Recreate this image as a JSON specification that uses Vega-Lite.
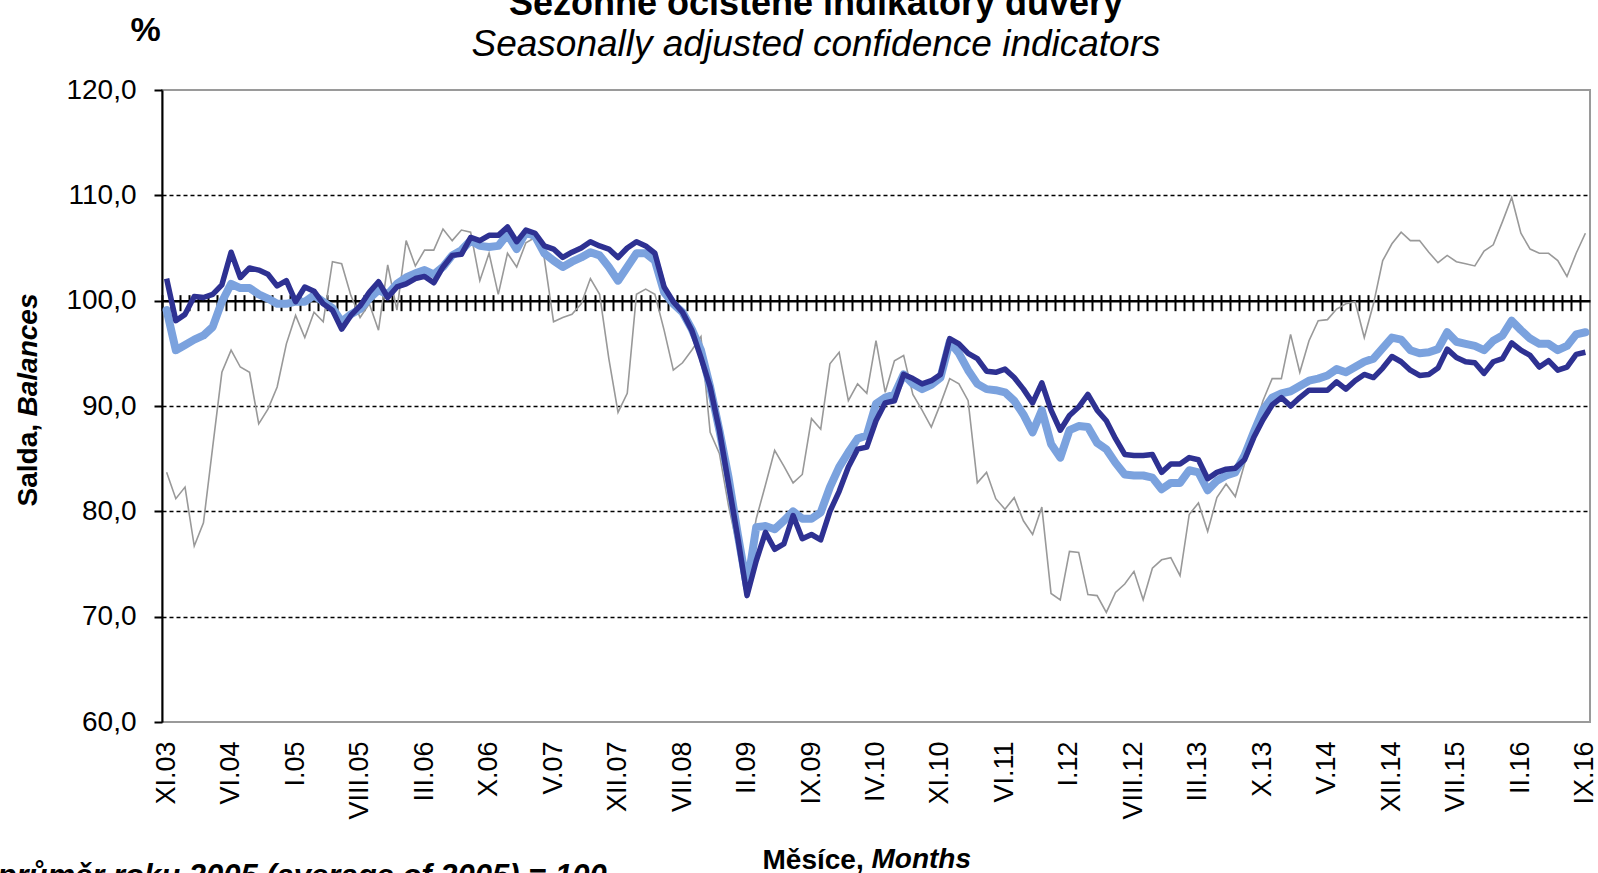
{
  "$schema": "https://vega.github.io/schema/vega-lite/v6.json",
  "autosize": {"type": "none"},
  "width": 1428,
  "height": 632,
  "padding": {"left": 162, "top": 90, "right": 8, "bottom": 151},
  "background": "white",
  "config": {
    "font": "Liberation Sans",
    "view": {"stroke": "#9a9a9a", "strokeWidth": 2},
    "axis": {"labelFont": "Liberation Sans", "titleFont": "Liberation Sans", "labelColor": "#000", "titleColor": "#000"}
  },
  "title": {
    "text": "Sezónně očištěné indikátory důvěry",
    "subtitle": "Seasonally adjusted confidence indicators",
    "font": "Liberation Sans",
    "fontSize": 36,
    "fontWeight": "bold",
    "color": "#000",
    "subtitleFont": "Liberation Sans",
    "subtitleFontSize": 37,
    "subtitleFontStyle": "italic",
    "subtitleFontWeight": "normal",
    "subtitleColor": "#000",
    "subtitlePadding": 4,
    "anchor": "middle",
    "frame": "group",
    "dx": -60,
    "offset": -51
  },
  "data": {"values": [
    {"m":"XI.03","g":83.7,"l":99.1,"d":102.1},
    {"m":"XII.03","g":81.2,"l":95.3,"d":98.1},
    {"m":"I.04","g":82.3,"l":95.8,"d":98.7},
    {"m":"II.04","g":76.7,"l":96.3,"d":100.4},
    {"m":"III.04","g":78.9,"l":96.7,"d":100.3},
    {"m":"IV.04","g":86.1,"l":97.5,"d":100.6},
    {"m":"V.04","g":93.2,"l":99.9,"d":101.5},
    {"m":"VI.04","g":95.3,"l":101.6,"d":104.6},
    {"m":"VII.04","g":93.7,"l":101.2,"d":102.2},
    {"m":"VIII.04","g":93.2,"l":101.2,"d":103.1},
    {"m":"IX.04","g":88.3,"l":100.6,"d":102.9},
    {"m":"X.04","g":89.7,"l":100.2,"d":102.5},
    {"m":"XI.04","g":91.8,"l":99.7,"d":101.4},
    {"m":"XII.04","g":95.9,"l":99.7,"d":101.9},
    {"m":"I.05","g":98.6,"l":99.9,"d":99.9},
    {"m":"II.05","g":96.5,"l":99.9,"d":101.3},
    {"m":"III.05","g":98.9,"l":100.5,"d":100.9},
    {"m":"IV.05","g":98.0,"l":99.9,"d":99.7},
    {"m":"V.05","g":103.7,"l":99.3,"d":99.1},
    {"m":"VI.05","g":103.5,"l":98.0,"d":97.3},
    {"m":"VII.05","g":100.5,"l":98.7,"d":98.6},
    {"m":"VIII.05","g":98.4,"l":99.2,"d":99.5},
    {"m":"IX.05","g":99.7,"l":100.2,"d":100.8},
    {"m":"X.05","g":97.2,"l":101.0,"d":101.8},
    {"m":"XI.05","g":103.4,"l":100.6,"d":100.3},
    {"m":"XII.05","g":99.1,"l":101.6,"d":101.3},
    {"m":"I.06","g":105.7,"l":102.2,"d":101.6},
    {"m":"II.06","g":103.3,"l":102.6,"d":102.1},
    {"m":"III.06","g":104.8,"l":102.9,"d":102.3},
    {"m":"IV.06","g":104.8,"l":102.5,"d":101.7},
    {"m":"V.06","g":106.8,"l":103.2,"d":103.2},
    {"m":"VI.06","g":105.7,"l":104.3,"d":104.3},
    {"m":"VII.06","g":106.7,"l":104.8,"d":104.4},
    {"m":"VIII.06","g":106.5,"l":105.7,"d":106.0},
    {"m":"IX.06","g":101.9,"l":105.2,"d":105.7},
    {"m":"X.06","g":104.5,"l":105.1,"d":106.2},
    {"m":"XI.06","g":100.6,"l":105.2,"d":106.2},
    {"m":"XII.06","g":104.5,"l":106.3,"d":107.0},
    {"m":"I.07","g":103.2,"l":104.9,"d":105.6},
    {"m":"II.07","g":105.5,"l":106.5,"d":106.7},
    {"m":"III.07","g":106.0,"l":106.1,"d":106.4},
    {"m":"IV.07","g":104.0,"l":104.5,"d":105.2},
    {"m":"V.07","g":98.0,"l":103.8,"d":104.9},
    {"m":"VI.07","g":98.4,"l":103.2,"d":104.1},
    {"m":"VII.07","g":98.7,"l":103.7,"d":104.6},
    {"m":"VIII.07","g":99.7,"l":104.1,"d":105.0},
    {"m":"IX.07","g":102.1,"l":104.6,"d":105.6},
    {"m":"X.07","g":100.6,"l":104.3,"d":105.2},
    {"m":"XI.07","g":94.5,"l":103.2,"d":104.9},
    {"m":"XII.07","g":89.4,"l":101.9,"d":104.1},
    {"m":"I.08","g":91.2,"l":103.2,"d":105.0},
    {"m":"II.08","g":100.6,"l":104.5,"d":105.6},
    {"m":"III.08","g":101.1,"l":104.5,"d":105.2},
    {"m":"IV.08","g":100.6,"l":103.8,"d":104.5},
    {"m":"V.08","g":97.2,"l":100.8,"d":101.3},
    {"m":"VI.08","g":93.4,"l":99.7,"d":99.9},
    {"m":"VII.08","g":94.1,"l":98.9,"d":98.9},
    {"m":"VIII.08","g":95.3,"l":97.3,"d":97.2},
    {"m":"IX.08","g":96.6,"l":95.3,"d":94.6},
    {"m":"X.08","g":87.5,"l":91.8,"d":91.8},
    {"m":"XI.08","g":85.5,"l":87.7,"d":87.7},
    {"m":"XII.08","g":80.5,"l":83.2,"d":82.6},
    {"m":"I.09","g":76.5,"l":77.8,"d":77.5},
    {"m":"II.09","g":74.3,"l":72.8,"d":72.0},
    {"m":"III.09","g":79.3,"l":78.5,"d":75.3},
    {"m":"IV.09","g":82.5,"l":78.6,"d":78.0},
    {"m":"V.09","g":85.8,"l":78.3,"d":76.4},
    {"m":"VI.09","g":84.3,"l":79.1,"d":76.9},
    {"m":"VII.09","g":82.7,"l":80.0,"d":79.6},
    {"m":"VIII.09","g":83.5,"l":79.3,"d":77.4},
    {"m":"IX.09","g":88.8,"l":79.3,"d":77.8},
    {"m":"X.09","g":87.8,"l":79.9,"d":77.3},
    {"m":"XI.09","g":94.0,"l":82.3,"d":80.0},
    {"m":"XII.09","g":95.1,"l":84.2,"d":81.9},
    {"m":"I.10","g":90.5,"l":85.6,"d":84.2},
    {"m":"II.10","g":92.1,"l":86.9,"d":85.9},
    {"m":"III.10","g":91.2,"l":87.2,"d":86.1},
    {"m":"IV.10","g":96.2,"l":90.2,"d":88.6},
    {"m":"V.10","g":91.3,"l":90.8,"d":90.3},
    {"m":"VI.10","g":94.3,"l":91.1,"d":90.5},
    {"m":"VII.10","g":94.8,"l":93.0,"d":93.0},
    {"m":"VIII.10","g":91.1,"l":92.1,"d":92.6},
    {"m":"IX.10","g":89.6,"l":91.6,"d":92.1},
    {"m":"X.10","g":88.0,"l":92.0,"d":92.4},
    {"m":"XI.10","g":90.2,"l":92.7,"d":93.0},
    {"m":"XII.10","g":92.6,"l":96.1,"d":96.4},
    {"m":"I.11","g":92.1,"l":95.0,"d":95.9},
    {"m":"II.11","g":90.5,"l":93.4,"d":95.0},
    {"m":"III.11","g":82.7,"l":92.1,"d":94.5},
    {"m":"IV.11","g":83.7,"l":91.6,"d":93.3},
    {"m":"V.11","g":81.2,"l":91.5,"d":93.2},
    {"m":"VI.11","g":80.2,"l":91.3,"d":93.5},
    {"m":"VII.11","g":81.3,"l":90.5,"d":92.7},
    {"m":"VIII.11","g":79.1,"l":89.2,"d":91.6},
    {"m":"IX.11","g":77.8,"l":87.5,"d":90.3},
    {"m":"X.11","g":80.4,"l":89.6,"d":92.2},
    {"m":"XI.11","g":72.2,"l":86.4,"d":89.6},
    {"m":"XII.11","g":71.6,"l":85.1,"d":87.7},
    {"m":"I.12","g":76.2,"l":87.7,"d":89.1},
    {"m":"II.12","g":76.1,"l":88.1,"d":89.9},
    {"m":"III.12","g":72.1,"l":88.0,"d":91.1},
    {"m":"IV.12","g":72.0,"l":86.5,"d":89.6},
    {"m":"V.12","g":70.4,"l":85.9,"d":88.6},
    {"m":"VI.12","g":72.3,"l":84.6,"d":86.9},
    {"m":"VII.12","g":73.1,"l":83.5,"d":85.4},
    {"m":"VIII.12","g":74.3,"l":83.4,"d":85.3},
    {"m":"IX.12","g":71.6,"l":83.4,"d":85.3},
    {"m":"X.12","g":74.6,"l":83.2,"d":85.4},
    {"m":"XI.12","g":75.4,"l":82.1,"d":83.7},
    {"m":"XII.12","g":75.6,"l":82.7,"d":84.5},
    {"m":"I.13","g":73.9,"l":82.7,"d":84.5},
    {"m":"II.13","g":79.7,"l":83.9,"d":85.1},
    {"m":"III.13","g":80.8,"l":83.7,"d":84.9},
    {"m":"IV.13","g":78.1,"l":82.0,"d":83.1},
    {"m":"V.13","g":81.3,"l":82.9,"d":83.7},
    {"m":"VI.13","g":82.6,"l":83.4,"d":84.0},
    {"m":"VII.13","g":81.4,"l":83.7,"d":84.1},
    {"m":"VIII.13","g":84.5,"l":85.3,"d":84.9},
    {"m":"IX.13","g":87.6,"l":87.5,"d":87.0},
    {"m":"X.13","g":90.5,"l":89.6,"d":88.7},
    {"m":"XI.13","g":92.6,"l":90.8,"d":90.1},
    {"m":"XII.13","g":92.6,"l":91.2,"d":90.8},
    {"m":"I.14","g":96.8,"l":91.4,"d":90.0},
    {"m":"II.14","g":93.2,"l":91.9,"d":90.8},
    {"m":"III.14","g":96.2,"l":92.4,"d":91.5},
    {"m":"IV.14","g":98.1,"l":92.6,"d":91.5},
    {"m":"V.14","g":98.2,"l":92.9,"d":91.5},
    {"m":"VI.14","g":99.2,"l":93.5,"d":92.3},
    {"m":"VII.14","g":99.7,"l":93.2,"d":91.6},
    {"m":"VIII.14","g":99.9,"l":93.7,"d":92.4},
    {"m":"IX.14","g":96.5,"l":94.2,"d":93.0},
    {"m":"X.14","g":99.7,"l":94.5,"d":92.7},
    {"m":"XI.14","g":103.8,"l":95.5,"d":93.6},
    {"m":"XII.14","g":105.4,"l":96.5,"d":94.7},
    {"m":"I.15","g":106.5,"l":96.3,"d":94.2},
    {"m":"II.15","g":105.7,"l":95.3,"d":93.4},
    {"m":"III.15","g":105.7,"l":95.0,"d":92.9},
    {"m":"IV.15","g":104.6,"l":95.1,"d":93.0},
    {"m":"V.15","g":103.6,"l":95.4,"d":93.6},
    {"m":"VI.15","g":104.3,"l":97.0,"d":95.4},
    {"m":"VII.15","g":103.7,"l":96.1,"d":94.6},
    {"m":"VIII.15","g":103.5,"l":95.9,"d":94.2},
    {"m":"IX.15","g":103.3,"l":95.7,"d":94.1},
    {"m":"X.15","g":104.7,"l":95.3,"d":93.1},
    {"m":"XI.15","g":105.3,"l":96.2,"d":94.2},
    {"m":"XII.15","g":107.5,"l":96.7,"d":94.5},
    {"m":"I.16","g":109.8,"l":98.1,"d":96.0},
    {"m":"II.16","g":106.4,"l":97.2,"d":95.3},
    {"m":"III.16","g":104.9,"l":96.4,"d":94.8},
    {"m":"IV.16","g":104.5,"l":95.9,"d":93.7},
    {"m":"V.16","g":104.5,"l":95.9,"d":94.3},
    {"m":"VI.16","g":103.8,"l":95.3,"d":93.4},
    {"m":"VII.16","g":102.3,"l":95.7,"d":93.7},
    {"m":"VIII.16","g":104.5,"l":96.8,"d":94.9},
    {"m":"IX.16","g":106.4,"l":97.0,"d":95.1}
  ]},
  "layer": [
    {
      "mark": {"type": "line", "color": "#999999", "strokeWidth": 1.6},
      "encoding": {
        "x": {"field": "m", "type": "ordinal", "sort": null,
          "scale": {"type": "band", "paddingInner": 0, "paddingOuter": 0},
          "axis": {"orient": "bottom", "values": ["XI.03","VI.04","I.05","VIII.05","III.06","X.06","V.07","XII.07","VII.08","II.09","IX.09","IV.10","XI.10","VI.11","I.12","VIII.12","III.13","X.13","V.14","XII.14","VII.15","II.16","IX.16"],
            "labelAngle": 270, "labelFontSize": 27, "labelPadding": 19, "labelOverlap": false,
            "ticks": false, "domain": false, "grid": false,
            "title": "Měsíce,", "titleFontSize": 28, "titleFontWeight": "bold", "titleAngle": 0,
            "titleAlign": "left", "titleBaseline": "alphabetic", "titleX": 600, "titleY": 146}},
        "y": {"field": "g", "type": "quantitative",
          "scale": {"domain": [60, 120], "nice": false, "zero": false},
          "axis": {"orient": "left", "values": [60,70,80,90,100,110,120],
            "labelExpr": "replace(format(datum.value, '.1f'), '.', ',')",
            "labelFontSize": 28, "labelPadding": 18, "tickSize": 8, "tickWidth": 2, "tickColor": "#000",
            "domainColor": "#000", "domainWidth": 2, "grid": false,
            "title": "Salda,", "titleFontSize": 28, "titleFontWeight": "bold", "titleAngle": 270,
            "titleAlign": "left", "titleBaseline": "middle", "titleX": -133.5, "titleY": 416}}
      }
    },
    {
      "mark": {"type": "line", "color": "#7ba2de", "strokeWidth": 8, "strokeJoin": "round", "strokeCap": "round"},
      "encoding": {
        "x": {"field": "m", "type": "ordinal", "sort": null,
          "scale": {"type": "band", "paddingInner": 0, "paddingOuter": 0},
          "axis": {"orient": "bottom", "offset": -421.33, "labels": false, "ticks": true, "tickSize": 10,
            "tickWidth": 2, "tickColor": "#000", "bandPosition": 0, "domain": true, "domainColor": "#000",
            "domainWidth": 2.5, "grid": false,
            "title": "Months", "titleFontSize": 28, "titleFontWeight": "bold", "titleFontStyle": "italic",
            "titleAngle": 0, "titleAlign": "left", "titleBaseline": "alphabetic", "titleX": 709, "titleY": 567.3}},
        "y": {"field": "l", "type": "quantitative",
          "scale": {"domain": [60, 120], "nice": false, "zero": false},
          "axis": {"orient": "left", "values": [70,80,90,110], "grid": true, "gridColor": "#000",
            "gridDash": [4,3], "gridWidth": 1.5, "labels": false, "ticks": false, "domain": false,
            "title": "Balances", "titleFontSize": 28, "titleFontWeight": "bold", "titleFontStyle": "italic",
            "titleAngle": 270, "titleAlign": "left", "titleBaseline": "middle", "titleX": -133.5, "titleY": 326}}
      }
    },
    {
      "mark": {"type": "line", "color": "#2e3192", "strokeWidth": 5.5, "strokeJoin": "round"},
      "encoding": {
        "x": {"field": "m", "type": "ordinal", "sort": null,
          "scale": {"type": "band", "paddingInner": 0, "paddingOuter": 0},
          "axis": {"orient": "bottom", "offset": -421.33, "labels": false, "ticks": true, "tickSize": -6,
            "tickWidth": 2, "tickColor": "#000", "bandPosition": 0, "domain": false, "grid": false,
            "title": "průměr roku 2005 (average of 2005) = 100", "titleFontSize": 31, "titleFontWeight": "bold",
            "titleFontStyle": "italic", "titleAngle": 0, "titleAlign": "left", "titleBaseline": "alphabetic",
            "titleX": -165, "titleY": 585}},
        "y": {"field": "d", "type": "quantitative",
          "scale": {"domain": [60, 120], "nice": false, "zero": false},
          "axis": {"orient": "left", "labels": false, "ticks": false, "domain": false, "grid": false,
            "title": "%", "titleFontSize": 34, "titleFontWeight": "bold", "titleAngle": 0,
            "titleAlign": "center", "titleBaseline": "alphabetic", "titleX": -17, "titleY": -50}}
      }
    }
  ],
  "resolve": {"axis": {"x": "independent", "y": "independent"}}
}
